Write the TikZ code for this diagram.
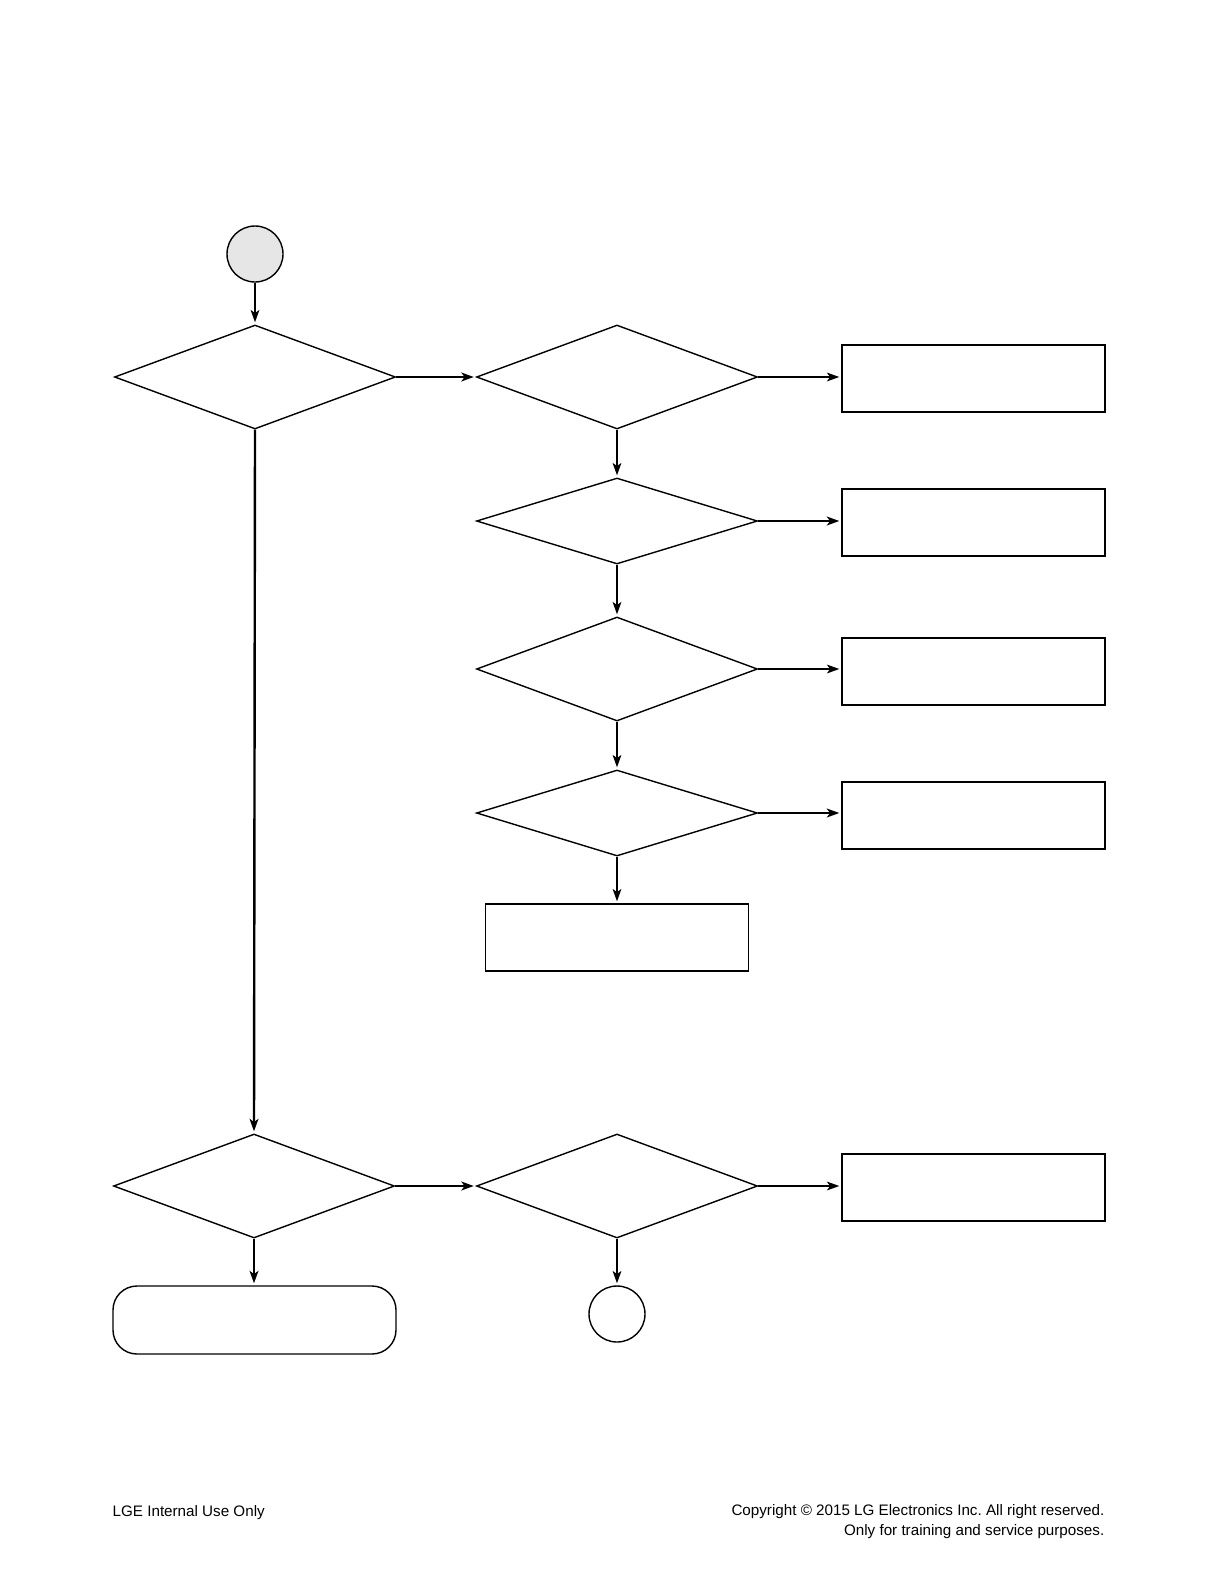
\documentclass[tikz,border=0pt]{standalone}
\usepackage{fontspec}
\setmainfont{Liberation Sans}
\usepackage{xcolor}
\usepackage{tikz}
\usetikzlibrary{shapes, arrows, arrows.meta}
\definecolor{startgray}{RGB}{230,230,230}
\tikzstyle{decision} = [draw, diamond, inner sep=0pt, minimum width=140.5bp, minimum height=52bp]
\tikzstyle{decisionlow} = [decision, minimum height=43bp]
\tikzstyle{block} = [draw, rectangle, inner sep=0pt, minimum width=131.5bp, minimum height=33.5bp]
\tikzstyle{connector} = [draw, circle, inner sep=0pt, minimum size=28bp]
\tikzstyle{terminal} = [draw, rectangle, rounded corners=12bp, inner sep=0pt, minimum width=141.5bp, minimum height=34bp]
\tikzstyle{footer} = [inner sep=0pt, font=\fontsize{7.6bp}{10bp}\selectfont\frenchspacing]

\begin{document}
\begin{tikzpicture}[x=0.5bp, y=-0.5bp, >={Stealth[length=6.2bp, width=4.4bp, inset=1.6bp]}, line width=0.7bp]
    % 样式
    \tikzstyle{flow} = [->, shorten >=1bp]
    \tikzstyle{flowbold} = [->, shorten >=1bp, line width=1.2bp]
    \useasboundingbox (0,0) rectangle (1219,1587);

    % 节点
    \node [connector, fill=startgray] (start) at (255,254) {};
    \node [decision] (D1) at (255,377) {};
    \node [decision] (D2) at (617,377) {};
    \node [block] (B1) at (973.5,378.5) {};
    \node [decisionlow] (D3) at (617,521) {};
    \node [block] (B2) at (973.5,522.5) {};
    \node [decision] (D4) at (617,669) {};
    \node [block] (B3) at (973.5,671.5) {};
    \node [decisionlow] (D5) at (617,813) {};
    \node [block] (B4) at (973.5,815.5) {};
    \node [block] (B5) at (617,937.5) {};
    \node [decision] (D6) at (254,1186) {};
    \node [decision] (D7) at (617,1186) {};
    \node [block] (B6) at (973.5,1187.5) {};
    \node [terminal] (stop) at (254.5,1320) {};
    \node [connector] (next) at (617,1314) {};

    % 连线
    \draw [flow] (start) -- (D1);
    \draw [flowbold] (D1.east) -- (D2.west);
    \draw [flowbold] (D1.south) -- (D6.north);
    \draw [flow] (D2.east) -- (D2.east -| B1.west);
    \draw [flow] (D2.south) -- (D3.north);
    \draw [flowbold] (D3.east) -- (D3.east -| B2.west);
    \draw [flow] (D3.south) -- (D4.north);
    \draw [flow] (D4.east) -- (D4.east -| B3.west);
    \draw [flow] (D4.south) -- (D5.north);
    \draw [flowbold] (D5.east) -- (D5.east -| B4.west);
    \draw [flow] (D5.south) -- (B5.north);
    \draw [flowbold] (D6.east) -- (D7.west);
    \draw [flowbold] (D6.south) -- (D6.south |- stop.north);
    \draw [flow] (D7.east) -- (D7.east -| B6.west);
    \draw [flow] (D7.south) -- (next.north);

    % 页脚
    \node [footer, anchor=base west] (internal) at (112,1516) {LGE Internal Use Only};
    \node [footer, anchor=base east] (copy1) at (1105,1515) {Copyright © 2015 LG Electronics Inc. All right reserved.};
    \node [footer, anchor=base east] (copy2) at (1105,1535) {Only for training and service purposes.};
\end{tikzpicture}
\end{document}
